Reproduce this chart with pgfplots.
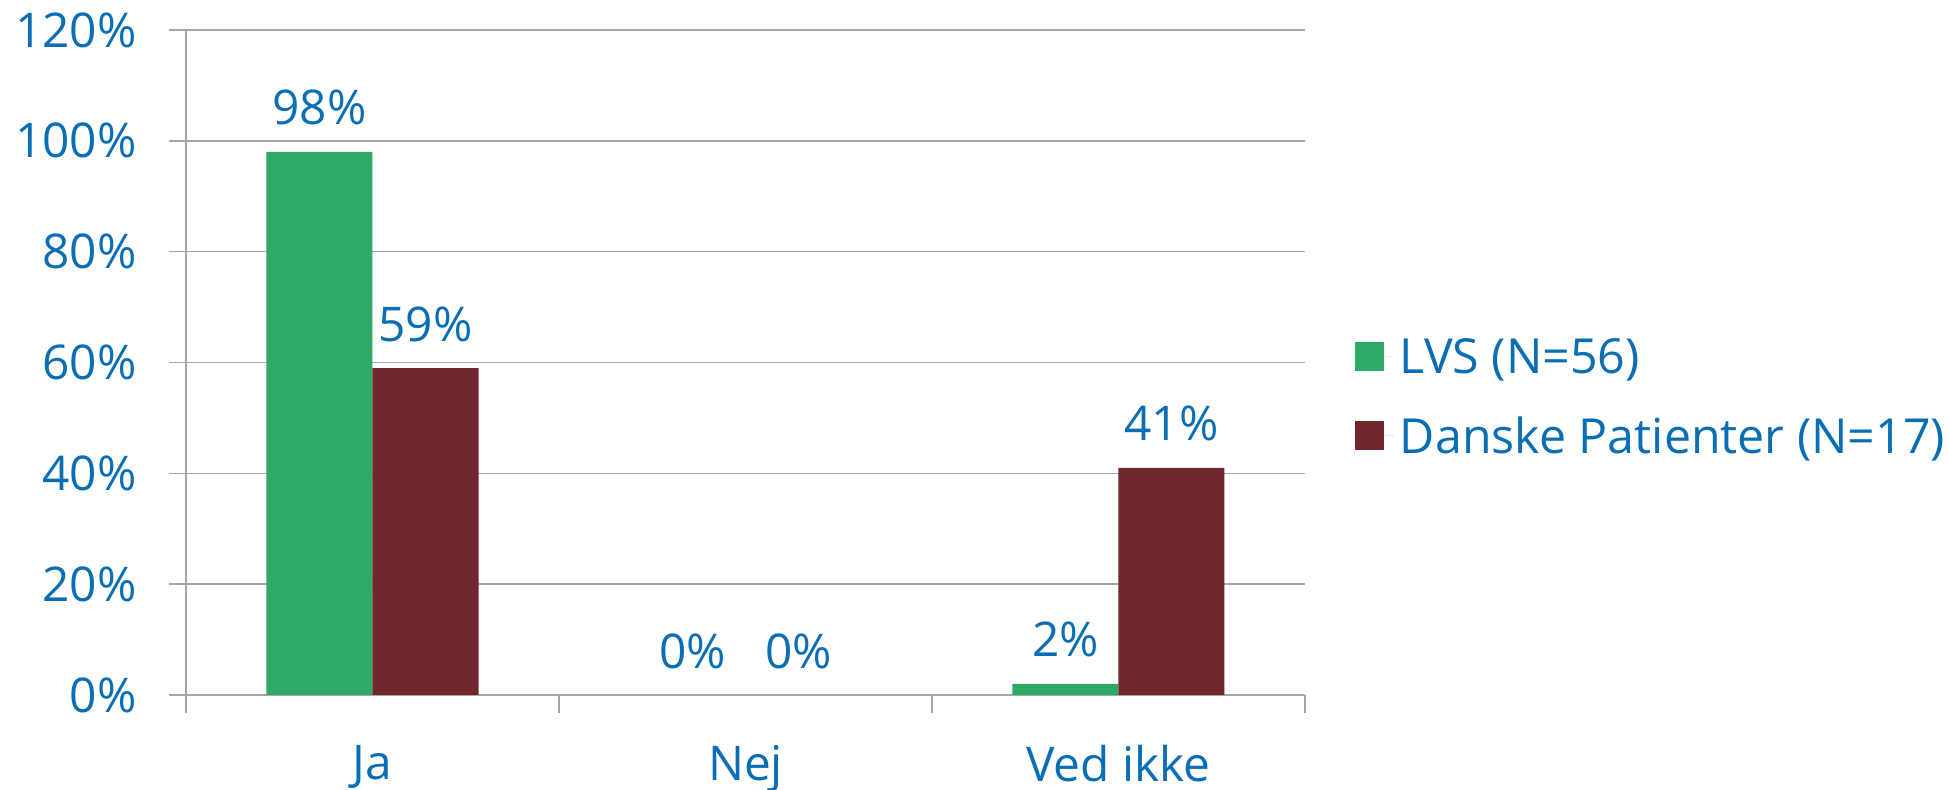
\documentclass[border=0pt]{standalone}
\usepackage{pgfplots}
\pgfplotsset{compat=1.18}
\usepackage{fontspec}
\setmainfont{Open Sans}
\definecolor{lvsgreen}{RGB}{46,170,102}
\definecolor{dpred}{RGB}{113,37,45}
\definecolor{txtblue}{RGB}{10,110,180}
\definecolor{gridgray}{RGB}{166,166,166}
\begin{document}
\begin{tikzpicture}
\useasboundingbox (0,0) rectangle (1949bp,790bp);
\begin{axis}[
  at={(186bp,95bp)}, anchor=south west,
  scale only axis, width=1119bp, height=665bp,
  xmin=-0.5, xmax=2.5, ymin=0, ymax=120,
  ybar=0pt, bar width=106bp,
  axis x line=bottom, axis y line=left,
  axis line style={gridgray, line width=2bp, -},
  ymajorgrids, grid style={gridgray, line width=1.5bp},
  ytick={0,20,...,120},
  yticklabels={0\%,20\%,40\%,60\%,80\%,100\%,120\%},
  xtick={0,1,2}, xticklabels={Ja,Nej,Ved ikke},
  major x tick style={draw=none},
  minor xtick={-0.5,0.5,1.5,2.5},
  minor x tick style={gridgray, line width=1.5bp},
  minor tick length=18bp,
  major tick length=17bp,
  tick align=outside,
  ytick style={gridgray, line width=1.5bp},
  tick label style={font=\fontsize{48}{56}\selectfont, text=txtblue},
  yticklabel style={xshift=-29bp},
  xticklabel style={yshift=-30bp},
  nodes near coords, point meta=explicit symbolic,
  every node near coord/.append style={font=\fontsize{48}{56}\selectfont, text=txtblue, yshift=23bp},
  legend style={at={(1.0445,0.449)}, anchor=west, draw=none, fill=none,
    font=\fontsize{48.5}{56}\selectfont, text=txtblue, row sep=38bp, inner sep=0pt,
    nodes={inner xsep=6bp}},
  legend cell align=left,
  legend image code/.code={\fill[#1] (0bp,-14.5bp) rectangle (29bp,14.5bp); \path (0bp,0bp) -- (39bp,0bp);},
]
\addplot[fill=lvsgreen, draw=none] coordinates {(0,98)[98\%] (1,0)[0\%] (2,2)[2\%]};
\addplot[fill=dpred, draw=none] coordinates {(0,59)[59\%] (1,0)[0\%] (2,41)[41\%]};
\legend{LVS (N=56),Danske Patienter (N=17)}
\end{axis}
\end{tikzpicture}
\end{document}
